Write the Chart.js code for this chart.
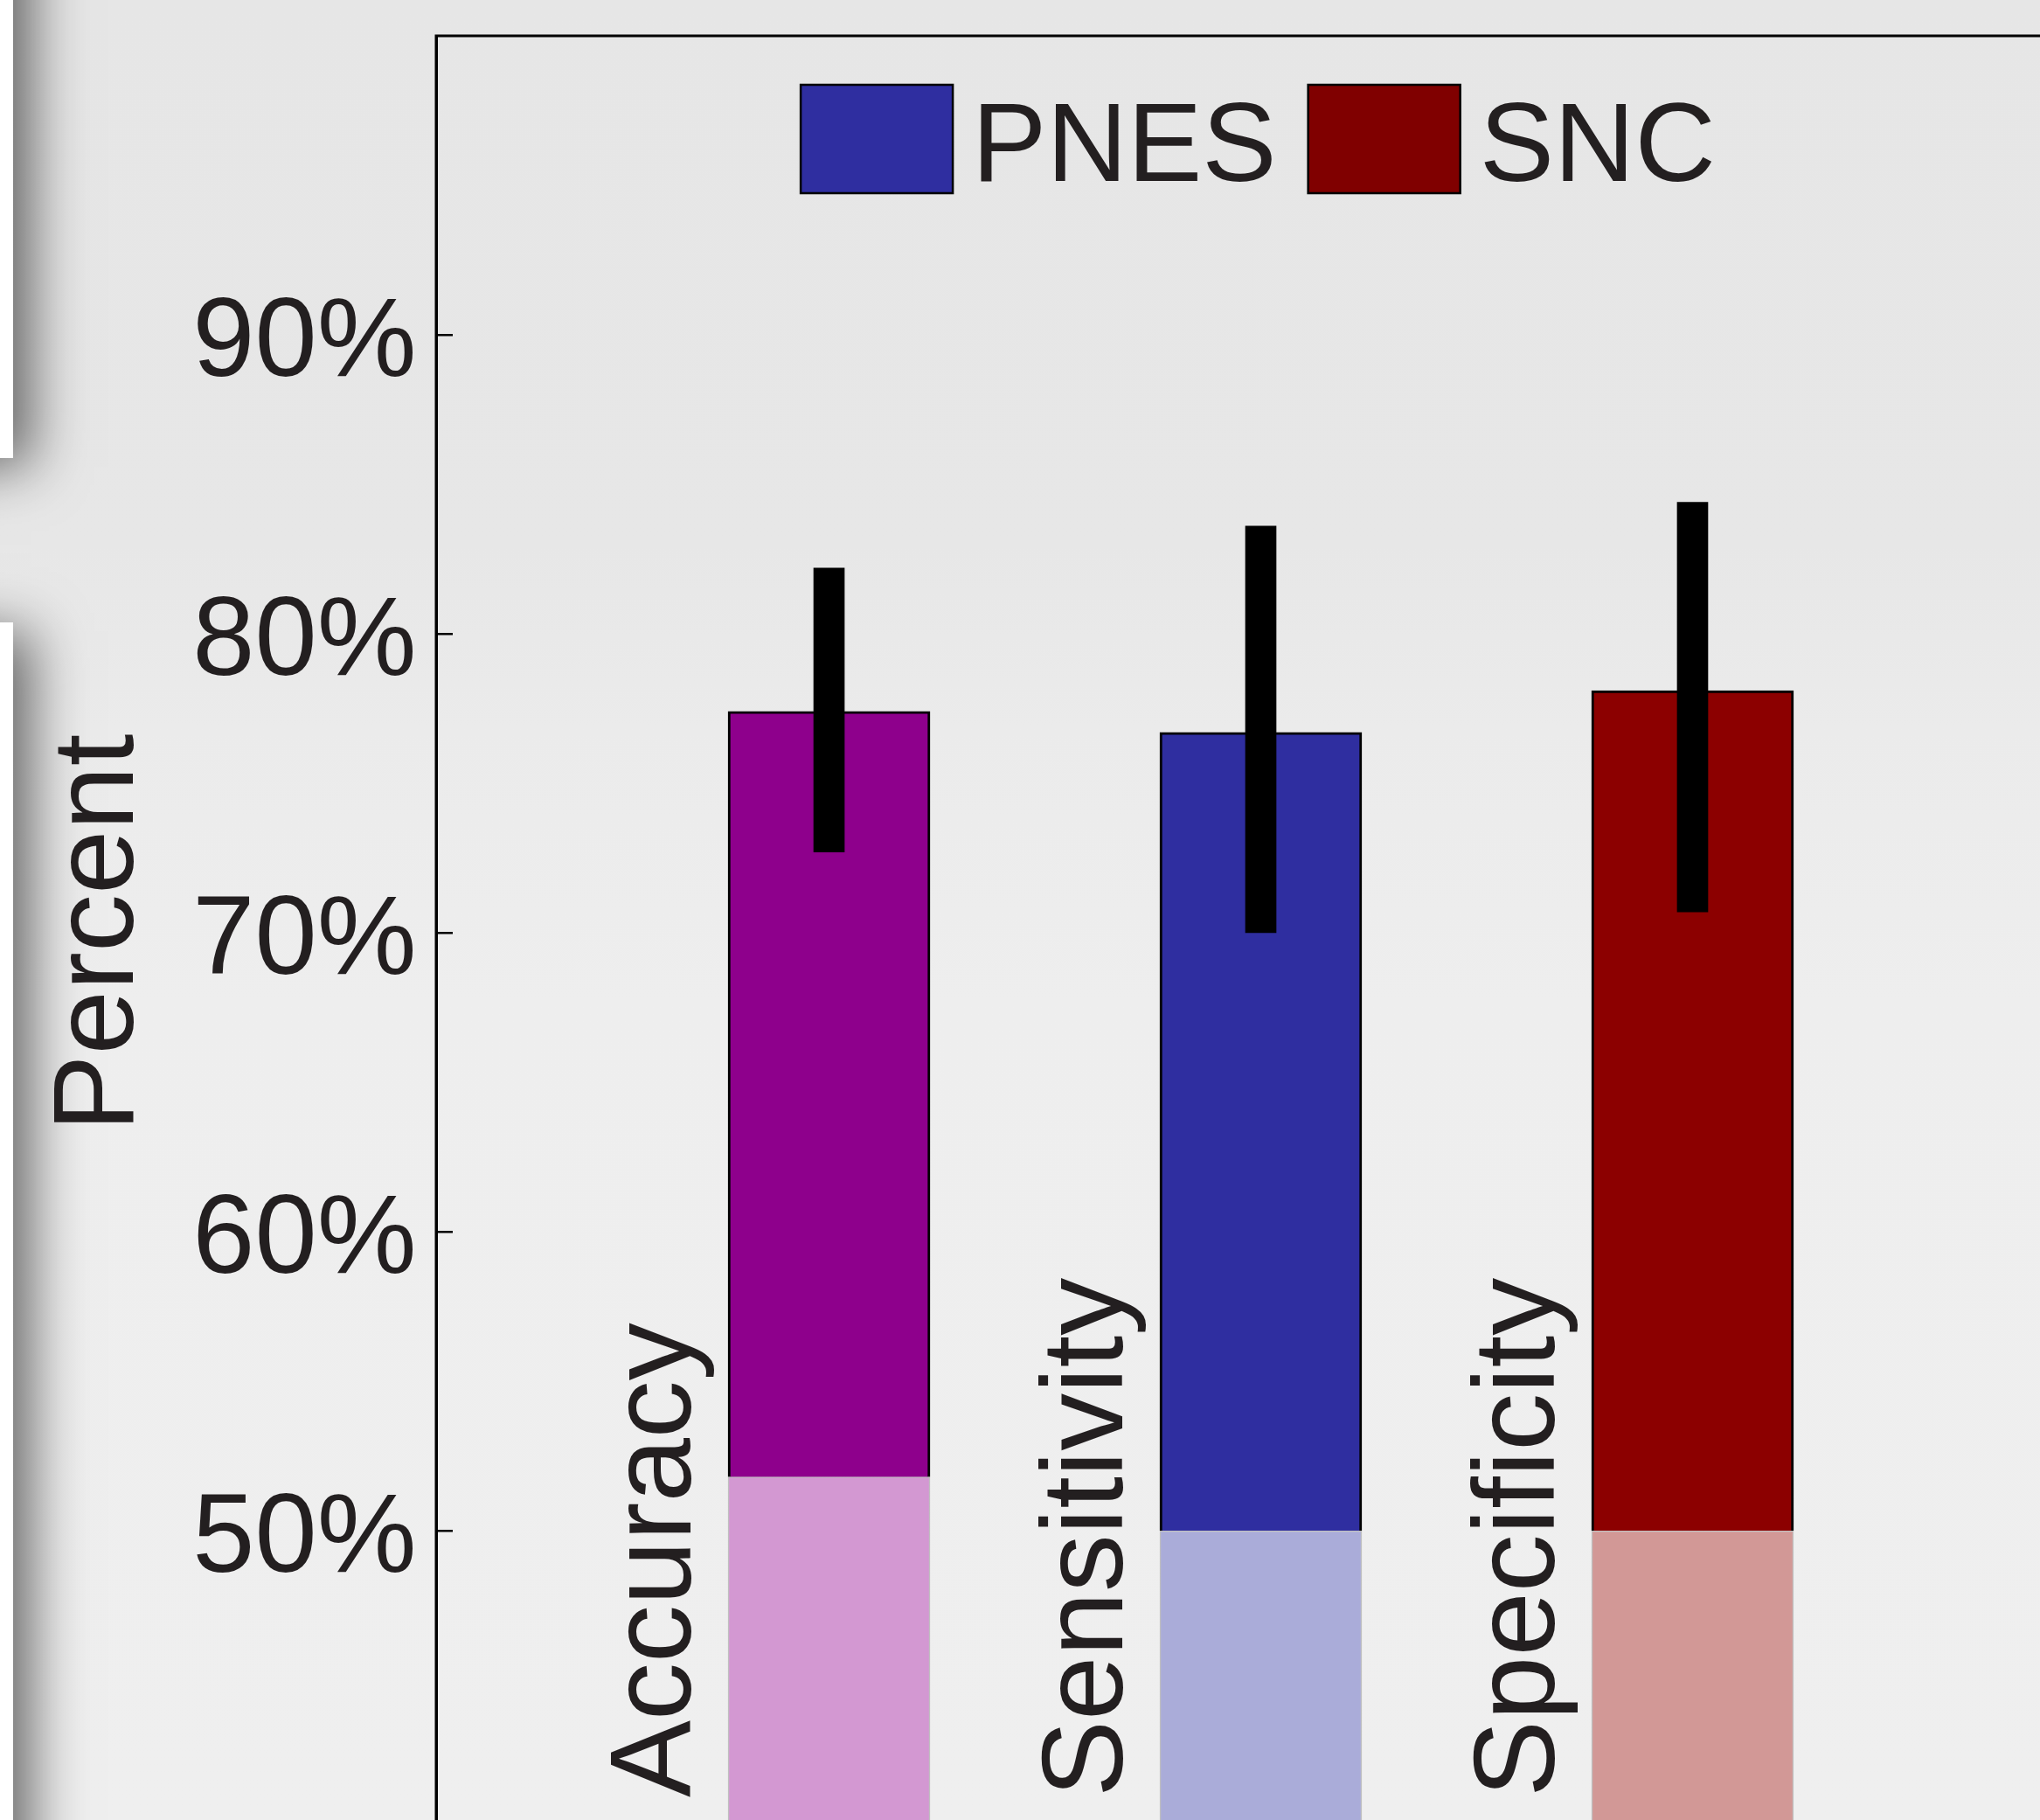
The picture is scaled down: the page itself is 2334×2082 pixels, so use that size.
<!DOCTYPE html>
<html>
<head>
<meta charset="utf-8">
<script src="https://cdn.jsdelivr.net/npm/chart.js@4.4.1/dist/chart.umd.min.js"></script>
<style>
  html, body { margin: 0; padding: 0; width: 2334px; height: 2082px; overflow: hidden; }
  body {
    position: relative;
    background: linear-gradient(to bottom, #e6e6e6 0%, #e7e7e7 30%, #ebebeb 40%, #eeeeee 55%, #efefef 100%);
  }
  .sheet { position: absolute; background: #fff; box-shadow: 20px 10px 60px rgba(0, 0, 0, 0.58); }
  #sheetTop { left: -2000px; top: -200px; width: 2015px; height: 724px; }
  #sheetBottom { left: -2000px; top: 712px; width: 2015px; height: 2000px; }
  #wrap { position: absolute; left: 0; top: 0; width: 2440px; height: 2200px; z-index: 1; }
</style>
</head>
<body>
<div class="sheet" id="sheetTop"></div>
<div class="sheet" id="sheetBottom"></div>
<div id="wrap"><canvas id="chart" width="2440" height="2200"></canvas></div>
<script>
const categories = ['Accuracy', 'Sensitivity', 'Specificity'];
const positions = [1, 2, 3];
const means = [77.4, 76.7, 78.1];
const chance = [51.8, 50, 50];
const ciLow = [72.7, 70.0, 70.7];
const ciHigh = [82.2, 83.6, 84.4];
const yTicks = [50, 60, 70, 80, 90];
const legendNames = ['PNES', 'SNC'];

const yMin = 40;
const yMax = 100;
const legendColors = ['#2f2ea0', '#800000'];
const darkColors = ['#8e008c', '#2f2ea0', '#8c0000'];
const lightColors = ['#d398d2', '#aaacd9', '#d29896'];
const textColor = '#231f20';
const fontFamily = '"Liberation Sans", Arial, sans-serif';

// frame round the plot (only top and left are on screen)
const framePlugin = {
  id: 'frame',
  afterDatasetsDraw(chart) {
    const { ctx, chartArea } = chart;
    ctx.save();
    ctx.strokeStyle = '#000';
    ctx.lineWidth = 3;
    ctx.strokeRect(chartArea.left, chartArea.top, chartArea.right - chartArea.left, chartArea.bottom - chartArea.top);
    ctx.restore();
  }
};

// rotated category names sitting left of each bar
const categoryLabels = {
  id: 'categoryLabels',
  afterDatasetsDraw(chart) {
    const { ctx, chartArea } = chart;
    const xScale = chart.scales.x;
    ctx.save();
    ctx.font = '132px ' + fontFamily;
    ctx.fillStyle = textColor;
    ctx.textAlign = 'left';
    ctx.textBaseline = 'alphabetic';
    categories.forEach((name, i) => {
      const x = xScale.getPixelForValue(positions[i] - 0.32);
      ctx.save();
      ctx.translate(x, chartArea.bottom - 37);
      ctx.rotate(-Math.PI / 2);
      ctx.fillText(name, 0, 0);
      ctx.restore();
    });
    ctx.restore();
  }
};

// legend drawn inside the plot, top centre
const insideLegend = {
  id: 'insideLegend',
  afterDatasetsDraw(chart) {
    const { ctx, chartArea } = chart;
    ctx.save();
    ctx.font = '128px ' + fontFamily;
    const boxW = 174, boxH = 124, gapText = 22, gapItem = 36;
    const widths = legendNames.map(n => ctx.measureText(n).width);
    const total = widths.reduce((a, w) => a + boxW + gapText + w, 0) + gapItem * (legendNames.length - 1);
    let x = (chartArea.left + chartArea.right) / 2 - total / 2 - 3;
    const top = chartArea.top + 56;
    legendNames.forEach((name, i) => {
      ctx.fillStyle = legendColors[i];
      ctx.fillRect(x, top, boxW, boxH);
      ctx.lineWidth = 2.5;
      ctx.strokeStyle = '#000';
      ctx.strokeRect(x, top, boxW, boxH);
      x += boxW + gapText;
      ctx.fillStyle = textColor;
      ctx.textBaseline = 'alphabetic';
      ctx.fillText(name, x, top + 110);
      x += widths[i] + gapItem;
    });
    ctx.restore();
  }
};

new Chart(document.getElementById('chart'), {
  type: 'bar',
  data: {
    datasets: [
      {
        label: 'interval',
        data: positions.map((x, i) => ({ x: x, y: [ciLow[i], ciHigh[i]] })),
        backgroundColor: '#000',
        borderWidth: 0,
        barThickness: 35,
        grouped: false,
        order: 0
      },
      {
        label: 'above chance',
        data: positions.map((x, i) => ({ x: x, y: [chance[i], means[i]] })),
        backgroundColor: darkColors,
        borderColor: '#000',
        borderWidth: 3,
        borderSkipped: 'start',
        barThickness: 231,
        grouped: false,
        order: 1
      },
      {
        label: 'chance',
        data: positions.map((x, i) => ({ x: x, y: [yMin, chance[i]] })),
        backgroundColor: lightColors,
        borderColor: 'rgba(0,0,0,0.2)',
        borderWidth: 1.5,
        borderSkipped: 'start',
        barThickness: 231,
        grouped: false,
        order: 2
      }
    ]
  },
  options: {
    responsive: false,
    animation: false,
    layout: { padding: { left: 0, top: 41, right: 54, bottom: 107 } },
    scales: {
      x: {
        type: 'linear',
        min: 0.09,
        max: 3.91,
        offset: false,
        display: false
      },
      y: {
        min: yMin,
        max: yMax,
        afterBuildTicks: (s) => { s.ticks = yTicks.map(v => ({ value: v })); },
        afterFit: (s) => { s.width = 499; s.paddingTop = 0; s.paddingBottom = 0; },
        border: { display: true, color: '#000', width: 3 },
        grid: { display: true, drawOnChartArea: false, drawTicks: true, tickLength: -19, color: '#000', lineWidth: 2.5 },
        ticks: {
          padding: 41.5,
          labelOffset: 12,
          color: textColor,
          font: { family: fontFamily, size: 128 },
          callback: (v) => v + '%'
        },
        title: {
          display: true,
          text: 'Percent',
          color: textColor,
          font: { family: fontFamily, size: 132 },
          padding: { top: 36, bottom: 0 }
        }
      }
    },
    plugins: {
      legend: { display: false },
      tooltip: { enabled: false }
    }
  },
  plugins: [framePlugin, categoryLabels, insideLegend]
});
</script>
</body>
</html>
